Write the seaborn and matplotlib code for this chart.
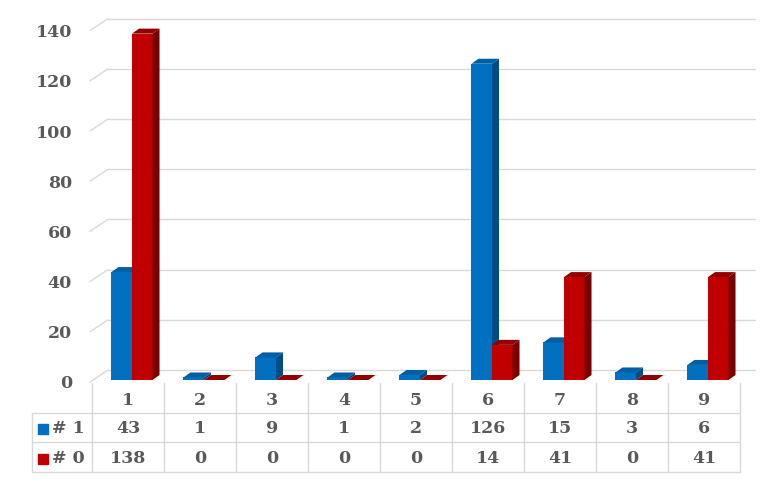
import numpy as np
import pandas as pd
import matplotlib
matplotlib.use('Agg')
import matplotlib.pyplot as plt
import matplotlib.colors as mcolors
import seaborn as sns
from matplotlib.patches import Polygon

# data
categories = ['1', '2', '3', '4', '5', '6', '7', '8', '9']
series_names = ['# 1', '# 0']
values_1 = [43, 1, 9, 1, 2, 126, 15, 3, 6]
values_0 = [138, 0, 0, 0, 0, 14, 41, 0, 41]
yticks = [0, 20, 40, 60, 80, 100, 120, 140]

front = {'# 1': '#0070C0', '# 0': '#C00000'}
top_col = {'# 1': '#005ea6', '# 0': '#920000'}
side_col = {'# 1': '#004c84', '# 0': '#780000'}
TEXT = '#595959'
GRID = '#d9d9d9'

df = pd.DataFrame({
    'cat': categories * 2,
    'series': [series_names[0]] * len(categories) + [series_names[1]] * len(categories),
    'value': values_1 + values_0,
})

sns.set_style('white')
plt.rcParams['font.family'] = ['DejaVu Serif']

W, H = 768, 480
fig = plt.figure(figsize=(W / 100, H / 100), dpi=100)
L, R, B, T = 92, 740, 380, 28.6
ax = fig.add_axes([L / W, 1 - B / H, (R - L) / W, (B - T) / H])
px = 9 / (R - L)        # data units per pixel (x)
py = 140 / (B - T)      # data units per pixel (y)

sns.barplot(data=df, x='cat', y='value', hue='series', order=categories,
            hue_order=series_names, palette=front, saturation=1, width=0.57,
            errorbar=None, legend=False, linewidth=0, ax=ax)
ax.set_xlim(-0.5, 8.5)
ax.set_ylim(0, 140)
ax.axis('off')

# back wall gridlines + left wall diagonals
for v in yticks:
    ax.plot([-0.5 + 16 * px, 8.5 + 15 * px], [v + 10 * py] * 2, color=GRID, lw=1,
            zorder=0.5, clip_on=False)
    ax.plot([-0.5 - 2 * px, -0.5 + 16 * px], [v - 2 * py, v + 10 * py], color=GRID,
            lw=1, zorder=0.5, clip_on=False)
    ax.text(-0.5 - 20 * px, v - 4 * py, str(v), ha='right', va='center',
            fontsize=12.5, fontweight='bold', color=TEXT)

# pseudo 3d faces
dx, dy = 7 * px, 5 * py
for p in ax.patches:
    hexc = mcolors.to_hex(p.get_facecolor()).upper()
    name = [k for k, c in front.items() if c.upper() == hexc][0]
    z = 2 if name == series_names[0] else 3
    p.set_x(p.get_x() + 4 * px)
    p.set_zorder(z)
    x, w, h = p.get_x(), p.get_width(), p.get_height()
    ax.add_patch(Polygon([(x, h), (x + w, h), (x + w + dx, h + dy), (x + dx, h + dy)],
                         closed=True, color=top_col[name], lw=0, zorder=z + 0.1,
                         clip_on=False))
    ax.add_patch(Polygon([(x + w, 0), (x + w + dx, dy), (x + w + dx, h + dy), (x + w, h)],
                         closed=True, color=side_col[name], lw=0, zorder=z + 0.1,
                         clip_on=False))

# data table
tax = fig.add_axes([L / W, 1 - 472 / H, (R - L) / W, (472 - 383) / H])
tax.set_xlim(-0.5, 8.5)
tax.set_ylim(3, 0)
tax.axis('off')
left_edge = -0.5 - 60 * px
for yy in [1, 2, 3]:
    tax.plot([left_edge, 8.5], [yy, yy], color=GRID, lw=1, clip_on=False)
for k in range(len(categories) + 1):
    tax.plot([k - 0.5, k - 0.5], [0, 3], color=GRID, lw=1, clip_on=False)
tax.plot([left_edge, left_edge], [1, 3], color=GRID, lw=1, clip_on=False)

fs = dict(fontsize=12.5, fontweight='bold', color=TEXT, va='center')
for i, c in enumerate(categories):
    tax.text(i, 0.6, c, ha='center', **fs)
for r, (name, vals) in enumerate(zip(series_names, [values_1, values_0])):
    yy = r + 1.55
    tax.plot([-0.5 - 49 * px], [yy], marker='s', ms=7.5, color=front[name],
             clip_on=False, lw=0)
    tax.text(-0.5 - 40 * px, yy, name, ha='left', **fs)
    for i, v in enumerate(vals):
        tax.text(i, yy, str(v), ha='center', **fs)

fig.savefig('out.png', dpi=100)
